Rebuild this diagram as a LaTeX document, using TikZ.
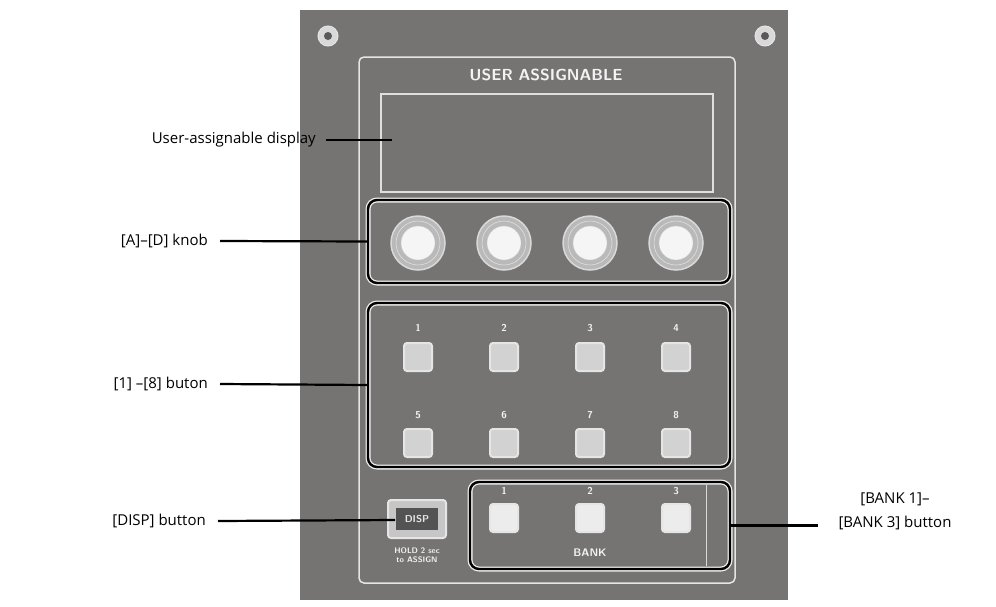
\documentclass[tikz,border=0pt]{standalone}
\usepackage{fontspec}
\setmainfont{Open Sans}
\newfontfamily\panelfont{PT Sans Narrow}[BoldFont={PT Sans Narrow Bold}]
\begin{document}
\begin{tikzpicture}[x=1pt,y=-1pt,
  lbl/.style={font=\fontsize{15}{18}\selectfont, inner sep=0},
  lead/.style={line width=2.2pt, black},
  grp/.style={draw=black, line width=2.4pt, rounded corners=9pt},
  grpw/.style={draw=white!85!gray, line width=5pt, rounded corners=9pt},
  btn/.style={draw=white!80!gray, line width=2pt, fill=gray!35!white, rounded corners=3pt, minimum size=28pt, inner sep=0},
  ptxt/.style={text=white!90!gray, font=\sffamily\bfseries\fontsize{10}{11}\selectfont, inner sep=0}]
\useasboundingbox (0,0) rectangle (996,606);
\definecolor{panel}{HTML}{767373}
% panel
\fill[panel] (300,10) rectangle (788,600);
\foreach \x/\n in {328/s1,765/s2}{
  \node[circle, fill=gray!30, draw=white!80!gray, line width=1pt, minimum size=20pt, inner sep=0] (\n) at (\x,36) {};
  \fill[gray!70!black] (\x,36) circle (4);
}
\draw[white!80!gray, line width=1.5pt, rounded corners=5pt] (359,57) rectangle (735,583);
\node[text=white!90!gray, font=\sffamily\bfseries\fontsize{16}{18}\selectfont, inner sep=0] (title) at (546,75) {USER ASSIGNABLE};
\node[draw=white!75!gray, line width=1.2pt, minimum width=332pt, minimum height=98pt, inner sep=0] (disp) at (547,143) {};
% knob group
\draw[grpw] (368,200) rectangle (730,283);
\draw[grp] (368,200) rectangle (730,283);
\node[inner sep=0, minimum width=362pt, minimum height=83pt] (knobs) at (549,241.5) {};
\foreach \x/\n in {418/k1,504/k2,590/k3,676/k4}{
  \node[circle, draw=white!70!gray, line width=1.5pt, fill=gray!55!white, minimum size=54pt, inner sep=0] (\n) at (\x,243) {};
  \draw[white!75!gray, line width=0.6pt] (\x,243) circle (22);
  \fill[white!92!gray, draw=gray!40] (\x,243) circle (17);
}
% buttons group
\draw[grpw] (368,303) rectangle (730,467);
\draw[grp] (368,303) rectangle (730,467);
\node[inner sep=0, minimum width=362pt, minimum height=164pt] (btns) at (549,385) {};
\foreach \x/\a/\b in {418/1/5,504/2/6,590/3/7,676/4/8}{
  \node[ptxt] at (\x,328) {\a};
  \node[btn] (b\a) at (\x,357) {};
  \node[ptxt] at (\x,415) {\b};
  \node[btn] (b\b) at (\x,443) {};
}
% bank group
\draw[grpw] (470,482) rectangle (730,569);
\draw[grp] (470,482) rectangle (730,569);
\draw[white!70!gray, line width=1pt] (706,485) -- (706,566);
\node[inner sep=0, minimum width=260pt, minimum height=87pt] (bank) at (600,525.5) {};
\foreach \x/\a in {504/1,590/2,676/3}{
  \node[ptxt] at (\x,491) {\a};
  \node[btn, fill=white!85!gray] (k\a b) at (\x,518) {};
}
\node[ptxt, font=\sffamily\bfseries\fontsize{11}{12}\selectfont] at (590,553) {BANK};
% DISP
\node[draw=white!80!gray, fill=gray!45!white, line width=2pt, rounded corners=3pt, minimum width=58pt, minimum height=38pt, inner sep=0] (dispb) at (417,519) {};
\node[fill=gray!65!black, minimum width=42pt, minimum height=22pt, inner sep=0, text=white!80!gray, font=\sffamily\bfseries\fontsize{10}{11}\selectfont] (disptxt) at (417,519) {DISP};
\node[ptxt, align=center, font=\sffamily\bfseries\fontsize{8}{8.5}\selectfont] at (417,555) {HOLD 2 sec\\to ASSIGN};
% labels and leaders
\node[lbl, anchor=east] (l1) at (316,140) {User-assignable display};
\coordinate (d1) at (392,140);
\draw[lead] ([xshift=10pt]l1.east) -- (d1);
\node[lbl, anchor=east] (l2) at (208,241) {[A]–[D] knob};
\draw[lead] ([xshift=12pt]l2.east) -- (knobs.west);
\node[lbl, anchor=east] (l3) at (208,384) {[1] –[8] buton};
\draw[lead] ([xshift=12pt]l3.east) -- (btns.west);
\node[lbl, anchor=east] (l4) at (206,521) {[DISP] button};
\coordinate (d4) at (395,520);
\draw[lead] ([xshift=12pt]l4.east) -- (d4);
\node[lbl, align=center, font=\fontsize{15}{24}\selectfont] (l5) at (895,511) {[BANK 1]–\\{}[BANK 3] button};
\coordinate (d5) at (818,525.5);
\draw[lead] (bank.east) -- (d5);
\end{tikzpicture}
\end{document}
